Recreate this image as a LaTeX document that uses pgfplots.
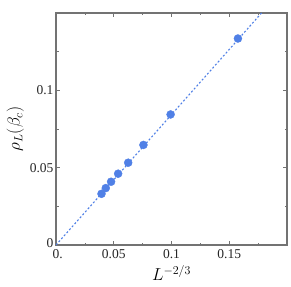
\documentclass[border=0pt]{standalone}
\usepackage{pgfplots}
\pgfplotsset{compat=1.18}
\usepackage{fontspec}
\setmainfont{Liberation Serif}
\definecolor{dotblue}{RGB}{80,128,230}
\definecolor{framegray}{RGB}{115,115,115}
\begin{document}
\begin{tikzpicture}
\begin{axis}[
  scale only axis,
  width=231pt, height=232pt,
  xmin=0, xmax=0.2, ymin=0, ymax=0.15,
  axis line style={framegray, line width=1.2pt},
  tick style={framegray, line width=0.7pt},
  tick align=inside,
  major tick length=4pt,
  minor tick length=2.5pt,
  xtick={0,0.05,0.1,0.15},
  xticklabels={\hphantom{.}0.,0.05,0.1,0.15},
  minor xtick={0.025,0.075,0.125,0.175},
  ytick={0,0.05,0.1},
  yticklabels={\raisebox{3pt}{0},0.05,0.1},
  minor ytick={0.025,0.075,0.125},
  /pgf/number format/assume math mode=true,
  tick label style={font=\fontsize{13.5}{15}\selectfont, text=black!85},
  xticklabel style={yshift=-1pt},
  yticklabel style={xshift=1pt},
  xlabel={$L^{-2/3}$},
  ylabel={$\rho_L(\beta_c)$},
  label style={font=\fontsize{17}{19}\selectfont},
  xlabel style={yshift=0pt},
  ylabel style={yshift=-1pt},
  clip=true,
]
\addplot[dotblue, line width=1.1pt, dash pattern=on 2pt off 2pt] coordinates {(0,0) (0.2,0.1686)};
\addplot[only marks, mark=*, mark size=4pt, mark options={fill=dotblue, draw=dotblue}] coordinates {
(0.0394,0.0331)
(0.0431,0.0368)
(0.0477,0.0409)
(0.0538,0.0461)
(0.0625,0.0532)
(0.0757,0.0647)
(0.0992,0.0844)
(0.1575,0.1335)
};
\end{axis}
\path ([shift={(-56pt,-41pt)}]current axis.south west) rectangle ([shift={(4pt,13pt)}]current axis.north east);
\end{tikzpicture}
\end{document}
